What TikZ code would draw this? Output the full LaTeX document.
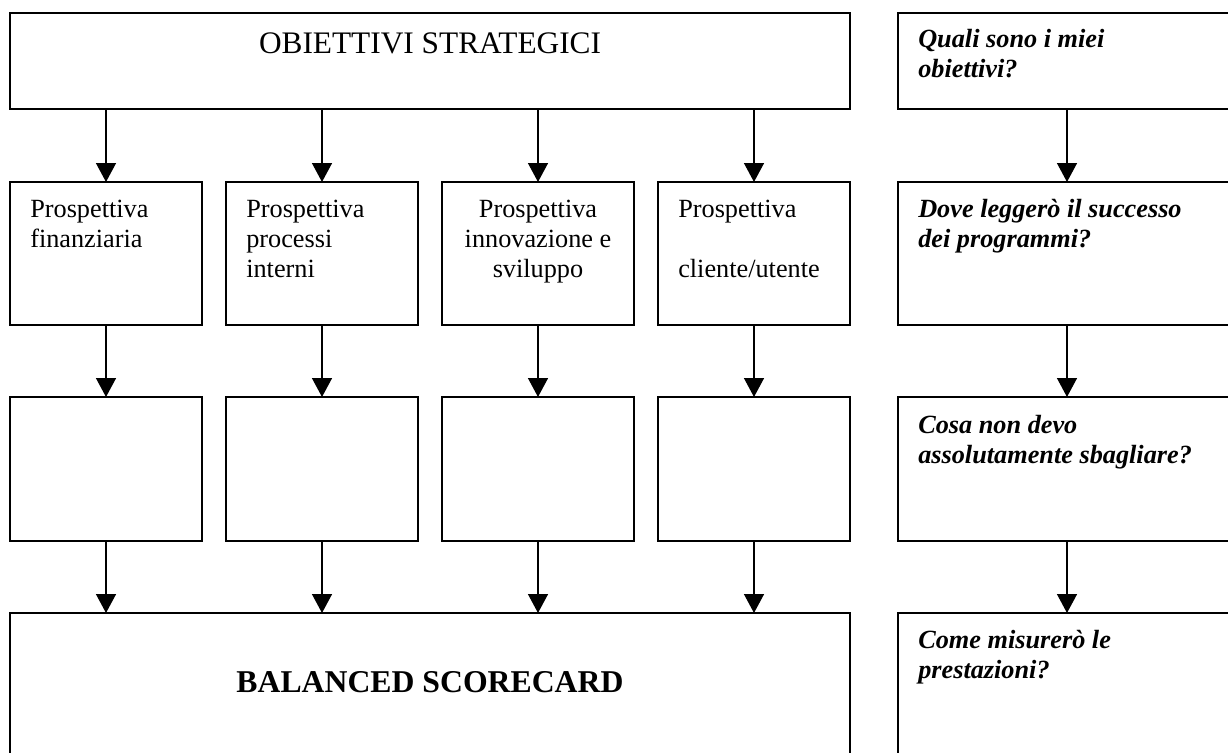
\documentclass[tikz,border=0pt]{standalone}
\usepackage{fontspec}
\setmainfont{Liberation Serif}
\usetikzlibrary{arrows.meta}
\tikzset{
  box/.style 2 args={draw, rectangle, line width=1.4pt, inner sep=0pt, outer sep=0pt,
    anchor=north west, minimum width=#1*0.75pt, minimum height=#2*0.75pt},
  arr/.style={line width=1.1pt, -{Triangle[length=14.25pt, width=15pt]}},
  txt/.style={inner sep=0pt, anchor=base west, font=\fontsize{19.7}{23}\selectfont},
  txtc/.style={inner sep=0pt, anchor=base, font=\fontsize{19.7}{23}\selectfont},
  qtxt/.style={inner sep=0pt, anchor=base west, font=\fontsize{19.7}{23}\selectfont\bfseries\itshape},
  bigtxt/.style={inner sep=0pt, anchor=base, font=\fontsize{23.5}{28}\selectfont},
}
\begin{document}
\begin{tikzpicture}[x=0.75pt, y=-0.75pt]
\useasboundingbox (0,0) rectangle (1228,753);
\fill[white] (0,0) rectangle (1228,753);
\clip (0,0) rectangle (1228,753);

% boxes
\node[box={840}{96}] (top) at (10,13) {};
\node[box={338}{96}] (r1) at (898,13) {};

\node[box={192}{143}] (a1) at (10,182) {};
\node[box={192}{143}] (a2) at (226,182) {};
\node[box={192}{143}] (a3) at (442,182) {};
\node[box={192}{143}] (a4) at (658,182) {};
\node[box={338}{143}] (r2) at (898,182) {};

\node[box={192}{144}] (b1) at (10,397) {};
\node[box={192}{144}] (b2) at (226,397) {};
\node[box={192}{144}] (b3) at (442,397) {};
\node[box={192}{144}] (b4) at (658,397) {};
\node[box={338}{144}] (r3) at (898,397) {};

\node[box={840}{170}] (bsc) at (10,613) {};
\node[box={338}{170}] (r4) at (898,613) {};

% texts
\node[bigtxt] (tOb) at (430,53) {OBIETTIVI STRATEGICI};

\node[txt] (tA1a) at (30,217) {Prospettiva};
\node[txt] (tA1b) at (30,247) {finanziaria};

\node[txt] (tA2a) at (246,217) {Prospettiva};
\node[txt] (tA2b) at (246,247) {processi};
\node[txt] (tA2c) at (246,277) {interni};

\node[txtc] (tA3a) at (538,217) {Prospettiva};
\node[txtc] (tA3b) at (538,247) {innovazione e};
\node[txtc] (tA3c) at (538,277) {sviluppo};

\node[txt] (tA4a) at (678,217) {Prospettiva};
\node[txt] (tA4b) at (678,277) {cliente/utente};

\node[qtxt] (tR1a) at (918,47) {Quali sono i miei};
\node[qtxt] (tR1b) at (918,77) {obiettivi?};
\node[qtxt] (tR2a) at (918,217) {Dove leggerò il successo};
\node[qtxt] (tR2b) at (918,247) {dei programmi?};
\node[qtxt] (tR3a) at (918,433) {Cosa non devo};
\node[qtxt] (tR3b) at (918,463) {assolutamente sbagliare?};
\node[qtxt] (tR4a) at (918,648) {Come misurerò le};
\node[qtxt] (tR4b) at (918,678) {prestazioni?};

\node[bigtxt, font=\fontsize{23.8}{28}\selectfont\bfseries] (tBsc) at (430,692) {BALANCED SCORECARD};

% connectors
\foreach \n in {1,2,3,4}{
  \draw[arr] (a\n.north |- top.south) -- (a\n.north);
  \draw[arr] (a\n.south) -- (b\n.north);
  \draw[arr] (b\n.south) -- (b\n.south |- bsc.north);
}
\draw[arr] (r1.south) -- (r2.north);
\draw[arr] (r2.south) -- (r3.north);
\draw[arr] (r3.south) -- (r4.north);
\end{tikzpicture}
\end{document}
